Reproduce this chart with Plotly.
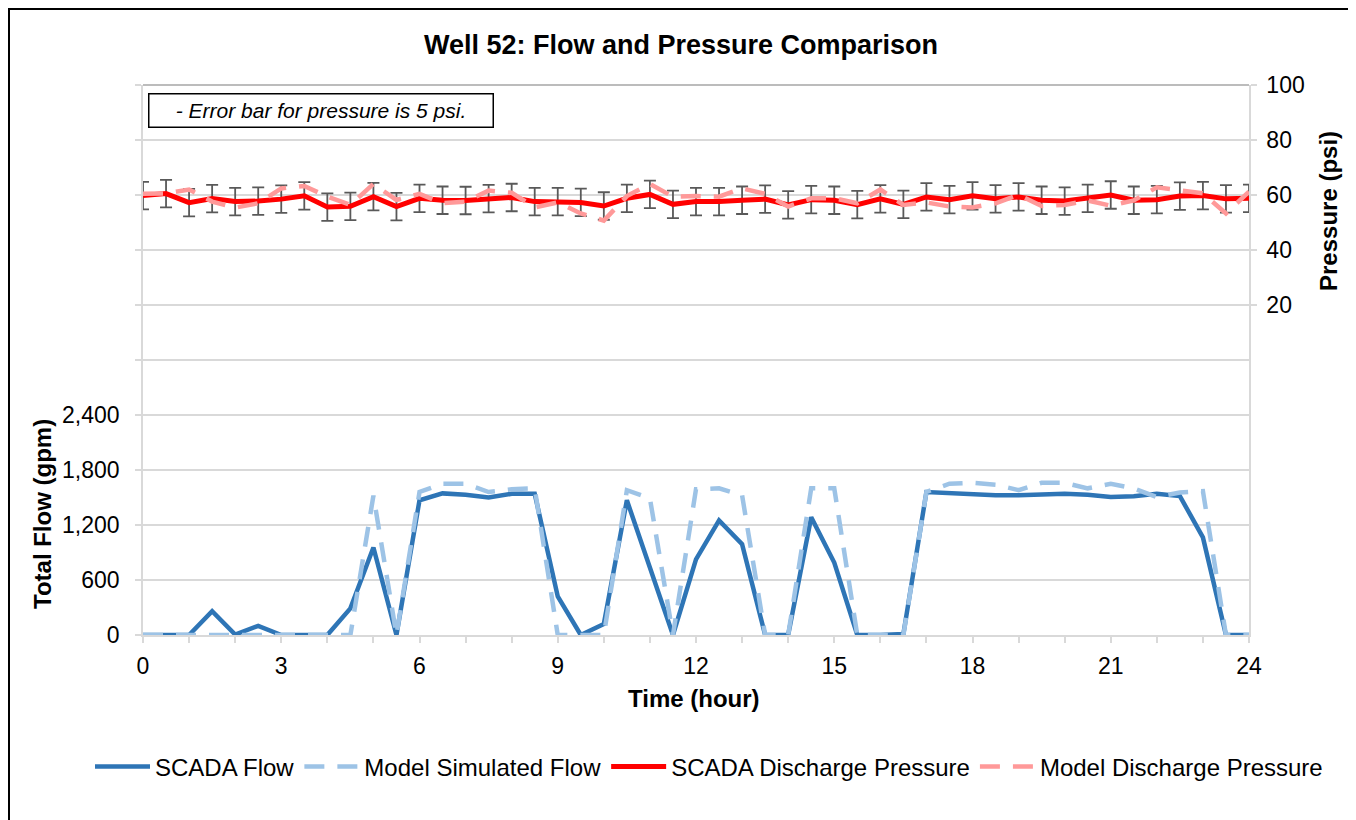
import plotly.graph_objects as go

# ---------------- data ----------------
hours = [0, 0.5, 1, 1.5, 2, 2.5, 3, 3.5, 4, 4.5, 5, 5.5, 6, 6.5, 7, 7.5, 8, 8.5,
         9, 9.5, 10, 10.5, 11, 11.5, 12, 12.5, 13, 13.5, 14, 14.5, 15, 15.5, 16,
         16.5, 17, 17.5, 18, 18.5, 19, 19.5, 20, 20.5, 21, 21.5, 22, 22.5, 23,
         23.5, 24]

scada_flow = [0, 0, 0, 260, 5, 100, 0, 0, 0, 290, 955, 0, 1470, 1545, 1530, 1500,
              1540, 1540, 420, 0, 120, 1470, 735, 0, 825, 1250, 990, 0, 0, 1285,
              790, 0, 0, 10, 1560, 1545, 1540, 1525, 1525, 1530, 1540, 1530, 1505,
              1515, 1540, 1515, 1065, 0, 0]

model_flow = [0, 0, 0, 0, 0, 0, 0, 0, 0, 0, 1520, 0, 1560, 1650, 1650, 1560,
              1590, 1600, 0, 0, 0, 1580, 1490, 0, 1590, 1600, 1525, 0, 0, 1600,
              1600, 0, 0, 0, 1560, 1650, 1660, 1640, 1580, 1660, 1660, 1600, 1650,
              1600, 1505, 1555, 1570, 0, 0]

scada_pressure = [59.8, 60.5, 57.2, 58.7, 57.6, 57.8, 58.5, 59.7, 55.6, 55.9, 59.4,
                  55.8, 58.8, 58.1, 58.0, 58.7, 59.1, 57.6, 57.6, 57.3, 56.0, 58.8,
                  60.2, 56.6, 57.6, 57.6, 58.1, 58.5, 56.4, 58.3, 58.1, 56.5, 58.6,
                  56.6, 59.3, 58.3, 59.7, 58.6, 59.3, 58.1, 57.8, 58.8, 60.0, 58.1,
                  58.3, 59.6, 59.8, 58.6, 58.8]

model_pressure = [60.5, 60.6, 62.0, 57.6, 55.4, 57.0, 62.4, 63.3, 59.4, 56.4, 64.0,
                  58.2, 60.4, 57.0, 57.6, 61.6, 60.8, 55.5, 57.3, 53.3, 50.7, 59.6,
                  64.0, 59.4, 59.6, 59.4, 62.4, 60.4, 55.8, 58.8, 58.8, 57.0, 62.0,
                  56.4, 57.3, 55.8, 55.5, 57.0, 60.0, 56.0, 56.4, 58.0, 56.1, 58.0,
                  62.8, 61.8, 60.6, 53.3, 61.2]

pressure_error = 5  # psi

x_tickvals = list(range(0, 25))
x_ticktext = ["0", "", "", "3", "", "", "6", "", "", "9", "", "", "12", "", "", "15",
              "", "", "18", "", "", "21", "", "", "24"]

flow_tickvals = [0, 600, 1200, 1800, 2400, 3000, 3600, 4200, 4800, 5400, 6000]
flow_ticktext = ["0", "600", "1,200", "1,800", "2,400", "", "", "", "", "", ""]

pressure_tickvals = [20, 40, 60, 80, 100]
pressure_ticktext = ["20", "40", "60", "80", "100"]

# ---------------- figure ----------------
FONT = "Liberation Sans, Arial, sans-serif"
dash_pat = "20px,13px"

# page body has an 8px margin; figure coords = screen coords - 8
FIG_W, FIG_H = 1348, 812
PL, PR, PT, PB = 143, 1249, 85, 635          # plot area in screen pixels
PW, PH = PR - PL, PB - PT


def px(sx):
    return (sx - PL) / PW


def py(sy):
    return (PB - sy) / PH


fig = go.Figure()

fig.add_trace(go.Scatter(
    x=hours, y=scada_flow, name="SCADA Flow", mode="lines",
    line=dict(color="#2E75B6", width=4.5), yaxis="y"))

fig.add_trace(go.Scatter(
    x=hours, y=model_flow, name="Model Simulated Flow", mode="lines",
    line=dict(color="#9DC3E6", width=4.5, dash=dash_pat), yaxis="y"))

fig.add_trace(go.Scatter(
    x=hours, y=scada_pressure, name="SCADA Discharge Pressure", mode="lines",
    line=dict(color="#FF0000", width=5),
    error_y=dict(type="constant", value=pressure_error, color="#595959",
                 thickness=1.8, width=6),
    yaxis="y2"))

fig.add_trace(go.Scatter(
    x=hours, y=model_pressure, name="Model Discharge Pressure", mode="lines",
    line=dict(color="#FF9999", width=4.5, dash=dash_pat), yaxis="y2"))

fig.update_layout(
    width=FIG_W, height=FIG_H,
    margin=dict(l=PL - 8, r=FIG_W - (PR - 8), t=PT - 8, b=FIG_H - (PB - 8),
                autoexpand=False),
    paper_bgcolor="white", plot_bgcolor="white",
    font=dict(family=FONT, size=23, color="black"),
    title=dict(text="<b>Well 52: Flow and Pressure Comparison</b>",
               x=(681 - 8) / FIG_W, xanchor="center",
               y=1 - (45 - 8) / FIG_H, yanchor="middle",
               font=dict(size=27, family=FONT, color="black")),
    xaxis=dict(
        range=[0, 24], tickvals=x_tickvals, ticktext=x_ticktext,
        showgrid=False, zeroline=False, automargin=False,
        showline=True, linecolor="#d9d9d9", linewidth=1.5,
        ticks="outside", ticklen=6, tickcolor="#d9d9d9", tickwidth=1.5,
        tickfont=dict(size=23), ticklabelstandoff=4),
    yaxis=dict(
        range=[0, 6000], tickvals=flow_tickvals, ticktext=flow_ticktext,
        showgrid=True, gridcolor="#d9d9d9", gridwidth=1.5, zeroline=False,
        automargin=False,
        showline=True, linecolor="#d9d9d9", linewidth=1.5,
        ticks="outside", ticklen=6, tickcolor="#d9d9d9", tickwidth=1.5,
        tickfont=dict(size=23), ticklabelstandoff=11),
    yaxis2=dict(
        range=[-100, 100], overlaying="y", side="right",
        tickvals=pressure_tickvals, ticktext=pressure_ticktext,
        showgrid=False, zeroline=False, automargin=False,
        showline=True, linecolor="#d9d9d9", linewidth=1.5,
        ticks="outside", ticklen=6, tickcolor="#d9d9d9", tickwidth=1.5,
        tickfont=dict(size=23), ticklabelstandoff=5),
    legend=dict(
        orientation="h", x=px(90), xanchor="left",
        y=py(767), yanchor="middle",
        font=dict(size=24), bgcolor="rgba(0,0,0,0)",
        itemwidth=55, tracegroupgap=0),
    showlegend=True,
)

# Axis titles placed as in the reference
fig.add_annotation(text="<b>Total Flow (gpm)</b>", xref="paper", yref="paper",
                   x=px(42), y=py(514), xanchor="center", yanchor="middle",
                   textangle=-90, showarrow=False, font=dict(size=24))
fig.add_annotation(text="<b>Pressure (psi)</b>", xref="paper", yref="paper",
                   x=px(1328), y=py(211), xanchor="center", yanchor="middle",
                   textangle=-90, showarrow=False, font=dict(size=24))
fig.add_annotation(text="<b>Time (hour)</b>", xref="paper", yref="paper",
                   x=px(694), y=py(698), xanchor="center", yanchor="middle",
                   showarrow=False, font=dict(size=24))

# Note box
fig.add_annotation(text="<i>- Error bar for pressure is 5 psi.</i>",
                   xref="paper", yref="paper",
                   x=px(148), xanchor="left",
                   y=py(93), yanchor="top",
                   width=343, height=32, align="center", valign="middle",
                   showarrow=False, font=dict(size=21),
                   bordercolor="black", borderwidth=1.5, borderpad=0,
                   bgcolor="white")

# darker top edge of plot area
fig.add_shape(type="line", xref="paper", yref="paper", x0=0, x1=1, y0=1, y1=1,
              line=dict(color="#a6a6a6", width=1.5), layer="below")

# outer chart border
fig.add_shape(type="rect", xref="paper", yref="paper",
              x0=px(9), x1=px(1353),
              y0=py(840), y1=py(9),
              line=dict(color="black", width=2), fillcolor="rgba(0,0,0,0)")

fig.write_html("out.html")
